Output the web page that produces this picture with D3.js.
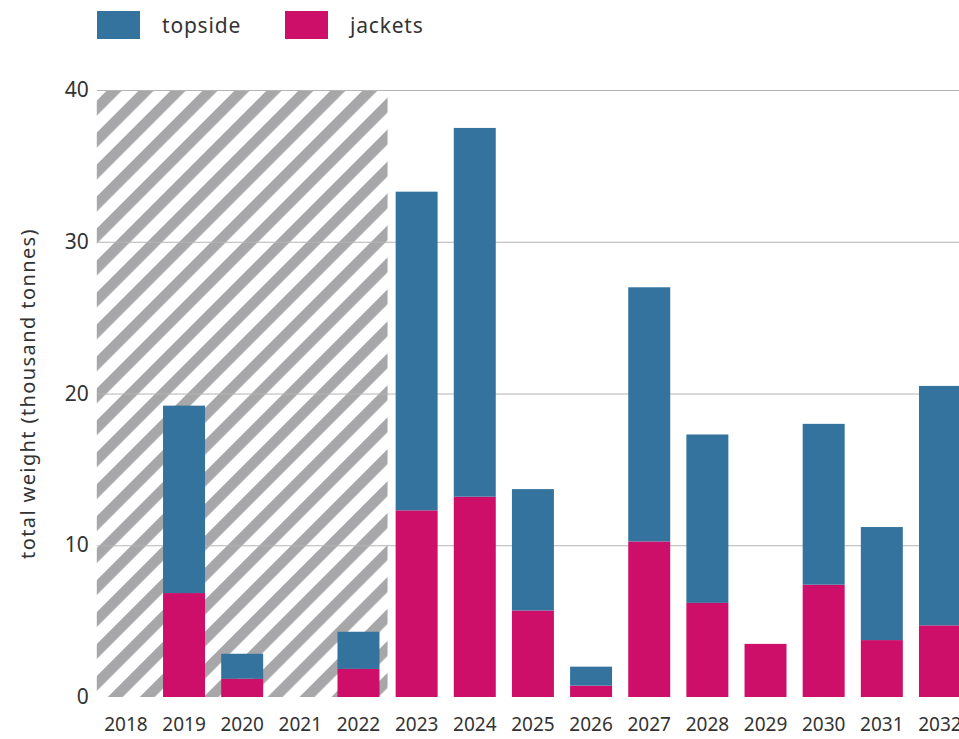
<!DOCTYPE html>
<html>
<head>
<meta charset="utf-8">
<script src="https://cdn.jsdelivr.net/npm/d3@7"></script>
<style>
  html, body { margin: 0; padding: 0; background: #fff; }
  svg { display: block; font-family: "Noto Sans", "Open Sans", sans-serif; }
</style>
</head>
<body>
<svg id="chart" width="959" height="739"></svg>
<script>
// Annual fabrication weight, thousand tonnes
const years = ["2018","2019","2020","2021","2022","2023","2024","2025","2026","2027","2028","2029","2030","2031","2032"];
const jackets = [0, 6.85, 1.2, 0, 1.85, 12.3, 13.2, 5.7, 0.75, 10.25, 6.2, 3.5, 7.4, 3.75, 4.72];
const topside = [0, 12.35, 1.65, 0, 2.45, 21.0, 24.3, 8.0, 1.25, 16.75, 11.1, 0, 10.6, 7.45, 15.78];
const seriesKeys = ["jackets", "topside"];
const seriesLabels = { topside: "topside", jackets: "jackets" };
const colors = { topside: "#35739f", jackets: "#ce0f69" };
const yTicks = [0, 10, 20, 30, 40];
const historicYears = ["2018","2019","2020","2021","2022"];

const svg = d3.select("#chart");
const margin = { left: 96.8, top: 90, bottom: 42 };
const plotW = 15 * 58.15;
const plotH = 739 - margin.top - margin.bottom;

const x = d3.scaleBand().domain(years).range([margin.left, margin.left + plotW])
  .paddingInner(0.278).paddingOuter(0.139);
const y = d3.scaleLinear().domain([0, 40]).range([margin.top + plotH, margin.top]);

const table = years.map((yr, i) => ({ year: yr, jackets: jackets[i], topside: topside[i] }));
const stacked = d3.stack().keys(seriesKeys)(table);

// Diagonal hatch marking past years
const defs = svg.append("defs");
const pat = defs.append("pattern")
  .attr("id", "hatch")
  .attr("patternUnits", "userSpaceOnUse")
  .attr("width", 22.6).attr("height", 22.6)
  .attr("patternTransform", "rotate(45) translate(4,0)");
pat.append("rect").attr("width", 22.6).attr("height", 22.6).attr("fill", "#fff");
pat.append("rect").attr("width", 10.6).attr("height", 22.6).attr("fill", "#a7a7a9");

const step = x.step();
const hx0 = x(historicYears[0]) - x.paddingOuter() * step;
const hx1 = x(historicYears[historicYears.length - 1]) + x.bandwidth() + x.paddingInner() * step / 2;
svg.append("rect")
  .attr("x", hx0).attr("y", y(40))
  .attr("width", hx1 - hx0).attr("height", y(0) - y(40))
  .attr("fill", "url(#hatch)");

// Horizontal gridlines
svg.append("g").selectAll("line")
  .data(yTicks.filter(d => d > 0))
  .join("line")
  .attr("x1", margin.left).attr("x2", 959)
  .attr("y1", d => y(d) + 0.5).attr("y2", d => y(d) + 0.5)
  .attr("stroke", "#b4b4b4").attr("stroke-width", 1);

// Stacked bars
svg.append("g").selectAll("g")
  .data(stacked)
  .join("g")
  .attr("fill", d => colors[d.key])
  .selectAll("rect")
  .data(d => d)
  .join("rect")
  .attr("x", d => x(d.data.year))
  .attr("width", x.bandwidth())
  .attr("y", d => y(d[1]))
  .attr("height", d => y(d[0]) - y(d[1]));

// Y axis labels
const yAxis = d3.axisLeft(y).tickValues(yTicks).tickSize(0).tickPadding(8);
const gy = svg.append("g").attr("transform", `translate(${margin.left},0)`).call(yAxis);
gy.select(".domain").remove();
gy.selectAll("text").attr("font-size", 21).attr("fill", "#333")
  .attr("font-family", "Noto Sans, sans-serif");

// X axis labels
const xAxis = d3.axisBottom(x).tickSize(0).tickPadding(21);
const gx = svg.append("g").attr("transform", `translate(0,${y(0)})`).call(xAxis);
gx.select(".domain").remove();
gx.selectAll("text").attr("font-size", 19).attr("fill", "#333")
  .attr("font-family", "Noto Sans, sans-serif");

// Y axis title
svg.append("text")
  .attr("transform", `translate(35,${(y(0) + y(40)) / 2}) rotate(-90)`)
  .attr("text-anchor", "middle")
  .attr("font-size", 20).attr("letter-spacing", 1.4).attr("fill", "#333")
  .text("total weight (thousand tonnes)");

// Legend
const legendItems = ["topside", "jackets"];
const lg = svg.append("g").selectAll("g")
  .data(legendItems)
  .join("g")
  .attr("transform", (d, i) => `translate(${97 + i * 188},11)`);
lg.append("rect").attr("width", 43).attr("height", 28).attr("fill", d => colors[d]);
lg.append("text").attr("x", 65).attr("y", 22)
  .attr("font-size", 21).attr("letter-spacing", 0.8).attr("fill", "#333")
  .text(d => seriesLabels[d]);
</script>
</body>
</html>
